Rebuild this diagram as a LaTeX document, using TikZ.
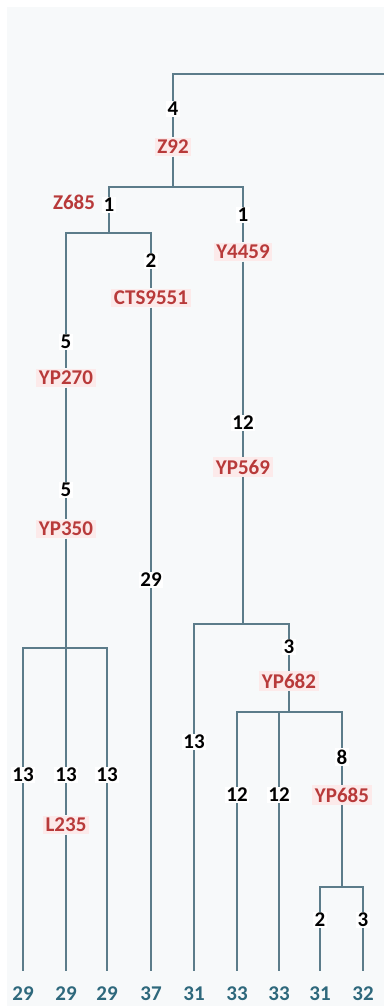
\documentclass[tikz,border=0pt]{standalone}
\usepackage{fontspec}
\setmainfont{Carlito}
\usepackage{tikz}

\definecolor{lien}{RGB}{92,124,138}
\definecolor{snprouge}{RGB}{184,58,58}
\definecolor{snpfond}{RGB}{252,234,234}
\definecolor{feuillebleu}{RGB}{46,104,124}
\definecolor{fond}{RGB}{247,249,250}

\begin{document}
\begin{tikzpicture}[
    x=1pt, y=1pt,
    % Style pour les longueurs de branches (nombres noirs)
    numnode/.style={fill=white, inner sep=1.2pt, font=\fontsize{21}{21}\selectfont\bfseries, text=black},
    % Style pour les marqueurs SNP (rouge sur fond rose)
    snpnode/.style={fill=snpfond, inner sep=2.5pt, font=\fontsize{21}{21}\selectfont\bfseries, text=snprouge},
    % Style pour les valeurs des feuilles
    leafnode/.style={inner sep=1pt, outer ysep=15pt, font=\fontsize{21}{21}\selectfont\bfseries, text=feuillebleu},
    % Style pour les lignes de liaison
    link/.style={draw=lien, line width=1.7pt}
]
\useasboundingbox (0,0) rectangle (384,-1006);
\fill[fond] (7,-7) rectangle (384,-1006);

% Racine
\coordinate (topR) at (384,-74);
\node[numnode] (n4) at (173,-109) {4};
\node[snpnode] (z92) at (173,-147) {Z92};
\coordinate (b1) at (173,-187);

% Branche gauche (Z685)
\node[snpnode, fill=none] (z685) at (74,-202) {Z685};
\node[numnode] (n1a) at (109,-205) {1};
\coordinate (b2) at (109,-233);
\node[numnode] (n5a) at (66,-342) {5};
\node[snpnode] (yp270) at (66,-378) {YP270};
\node[numnode] (n5b) at (66,-490) {5};
\node[snpnode] (yp350) at (66,-529) {YP350};
\coordinate (b4) at (66,-648);
\node[numnode] (n13a) at (23,-775) {13};
\node[numnode] (n13b) at (66,-775) {13};
\node[numnode] (n13c) at (107,-775) {13};
\node[snpnode] (l235) at (66,-825) {L235};
\node[numnode] (n2a) at (151,-261) {2};
\node[snpnode] (cts) at (151,-298) {CTS9551};
\node[numnode] (n29) at (151,-580) {29};

% Branche droite (Y4459)
\node[numnode] (n1b) at (243,-215) {1};
\node[snpnode] (y4459) at (243,-252) {Y4459};
\node[numnode] (n12a) at (243,-423) {12};
\node[snpnode] (yp569) at (243,-467) {YP569};
\coordinate (b3) at (243,-624);
\node[numnode] (n13d) at (194,-742) {13};
\node[numnode] (n3a) at (289,-647) {3};
\node[snpnode] (yp682) at (289,-681) {YP682};
\coordinate (b5) at (289,-712);
\node[numnode] (n12b) at (237,-795) {12};
\node[numnode] (n12c) at (279,-795) {12};
\node[numnode] (n8) at (342,-757) {8};
\node[snpnode] (yp685) at (342,-795) {YP685};
\coordinate (b6) at (342,-887);
\node[numnode] (n2b) at (320,-920) {2};
\node[numnode] (n3b) at (363,-920) {3};

% Feuilles
\node[leafnode] (f1) at (23,-994) {29};
\node[leafnode] (f2) at (66,-994) {29};
\node[leafnode] (f3) at (107,-994) {29};
\node[leafnode] (f4) at (151,-994) {37};
\node[leafnode] (f5) at (194,-994) {31};
\node[leafnode] (f6) at (237,-994) {33};
\node[leafnode] (f7) at (279,-994) {33};
\node[leafnode] (f8) at (320,-994) {31};
\node[leafnode] (f9) at (363,-994) {32};

% Liaisons
\draw[link] (topR) -| (n4);
\draw[link] (n4) -- (z92) -- (b1);
\draw[link] (n1a) |- (b1) -| (n1b);
\draw[link] (n1a) -- (b2);
\draw[link] (n5a) |- (b2) -| (n2a);
\draw[link] (n5a) -- (yp270) -- (n5b) -- (yp350) -- (n13b) -- (l235) -- (f2);
\draw[link] (n13a) |- (b4) -| (n13c);
\draw[link] (n13a) -- (f1);
\draw[link] (n13c) -- (f3);
\draw[link] (n2a) -- (cts) -- (n29) -- (f4);
\draw[link] (n1b) -- (y4459) -- (n12a) -- (yp569) -- (b3);
\draw[link] (n13d) |- (b3) -| (n3a);
\draw[link] (n13d) -- (f5);
\draw[link] (n3a) -- (yp682) -- (b5);
\draw[link] (n12b) |- (b5) -| (n8);
\draw[link] (n12c) -- (n12c |- b5);
\draw[link] (n12b) -- (f6);
\draw[link] (n12c) -- (f7);
\draw[link] (n8) -- (yp685) -- (b6);
\draw[link] (n2b) |- (b6) -| (n3b);
\draw[link] (n2b) -- (f8);
\draw[link] (n3b) -- (f9);

\end{tikzpicture}
\end{document}
